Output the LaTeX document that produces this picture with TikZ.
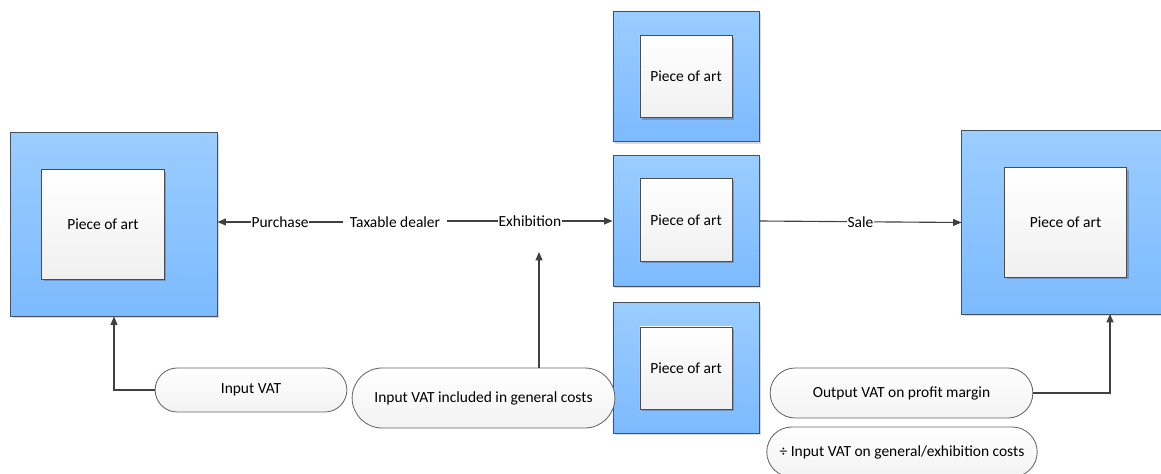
\documentclass[tikz,border=0pt]{standalone}
\usepackage{fontspec}
\setmainfont{Carlito}
\usetikzlibrary{arrows.meta,shadows,shapes.misc}
\definecolor{frameblue}{RGB}{155,205,255}
\definecolor{deepblue}{RGB}{124,186,255}
\definecolor{edgegray}{RGB}{70,80,95}
\definecolor{linegray}{RGB}{64,64,64}
\tikzset{
  outerbox/.style={draw=edgegray,line width=0.7pt,top color=frameblue,bottom color=deepblue,
    drop shadow={shadow xshift=1.5pt,shadow yshift=-1.5pt,fill=black!25,opacity=0.6}},
  innerbox/.style={draw=black!70,line width=0.7pt,top color=white,bottom color=black!6,
    drop shadow={shadow xshift=1.5pt,shadow yshift=-1.5pt,fill=edgegray,opacity=0.35}},
  pill/.style={rounded rectangle,draw=black!60,line width=0.6pt,top color=white,bottom color=black!5},
  arr/.style={draw=linegray,line width=0.8pt,-{Triangle[length=6pt,width=5pt]}},
  lbl/.style={midway,fill=white,inner sep=0.5pt}
}
\begin{document}
\begin{tikzpicture}[x=0.025cm,y=-0.025cm]\fontsize{11}{13}\selectfont
\useasboundingbox (0,0) rectangle (1161,473);
% pieces of art
\node[outerbox,minimum width=5.15cm,minimum height=4.575cm] (artL) at (114,224.5) {};
\node[innerbox,minimum width=3.05cm,minimum height=2.725cm] (inL) at (103,224.5) {Piece of art};
\node[outerbox,minimum width=3.65cm,minimum height=3.25cm] (artT) at (686,76.5) {};
\node[innerbox,minimum width=2.3cm,minimum height=2.05cm] (inT) at (686,76.5) {Piece of art};
\node[outerbox,minimum width=3.65cm,minimum height=3.25cm] (artM) at (686,221) {};
\node[innerbox,minimum width=2.3cm,minimum height=2.05cm] (inM) at (686,220) {Piece of art};
\node[outerbox,minimum width=3.65cm,minimum height=3.25cm] (artB) at (686,368) {};
\node[innerbox,minimum width=2.3cm,minimum height=2.05cm] (inB) at (686,368) {Piece of art};
\node[outerbox,minimum width=5.15cm,minimum height=4.575cm] (artR) at (1065,222.5) {};
\node[innerbox,minimum width=3.05cm,minimum height=2.725cm] (inR) at (1065.5,222.5) {Piece of art};
% dealer
\node[inner sep=5pt] (dealer) at (395,222) {Taxable dealer};
% VAT
\node[pill,minimum width=5.05cm,minimum height=1.1cm] (vatin) at (251,390) {Input VAT};
\node[pill,minimum width=6.825cm,minimum height=1.5cm] (vatgen) at (483.5,398) {Input VAT included in general costs};
\node[pill,minimum width=6.825cm,minimum height=1.25cm] (vatout) at (901.5,393) {Output VAT on profit margin};
\node[pill,minimum width=6.9cm,minimum height=1.25cm,inner xsep=2pt] (vatded) at (902,452) {÷ Input VAT on general/exhibition costs};
% flows
\draw[arr] (dealer.west) -- (dealer.west -| artL.east) node[lbl] {Purchase};
\draw[arr] (dealer.east |- artM.west) -- (artM.west) node[lbl] {Exhibition};
\draw[arr] (artM.east) -- (artR.west) node[lbl] {Sale};
\coordinate (exup) at (539,252);
\coordinate (outup) at (1110,314);
\draw[arr] (vatin.west) -| (artL.south);
\draw[arr] (exup |- vatgen.north) -- (exup);
\draw[arr] (vatout.east) -| (outup);
\end{tikzpicture}
\end{document}
